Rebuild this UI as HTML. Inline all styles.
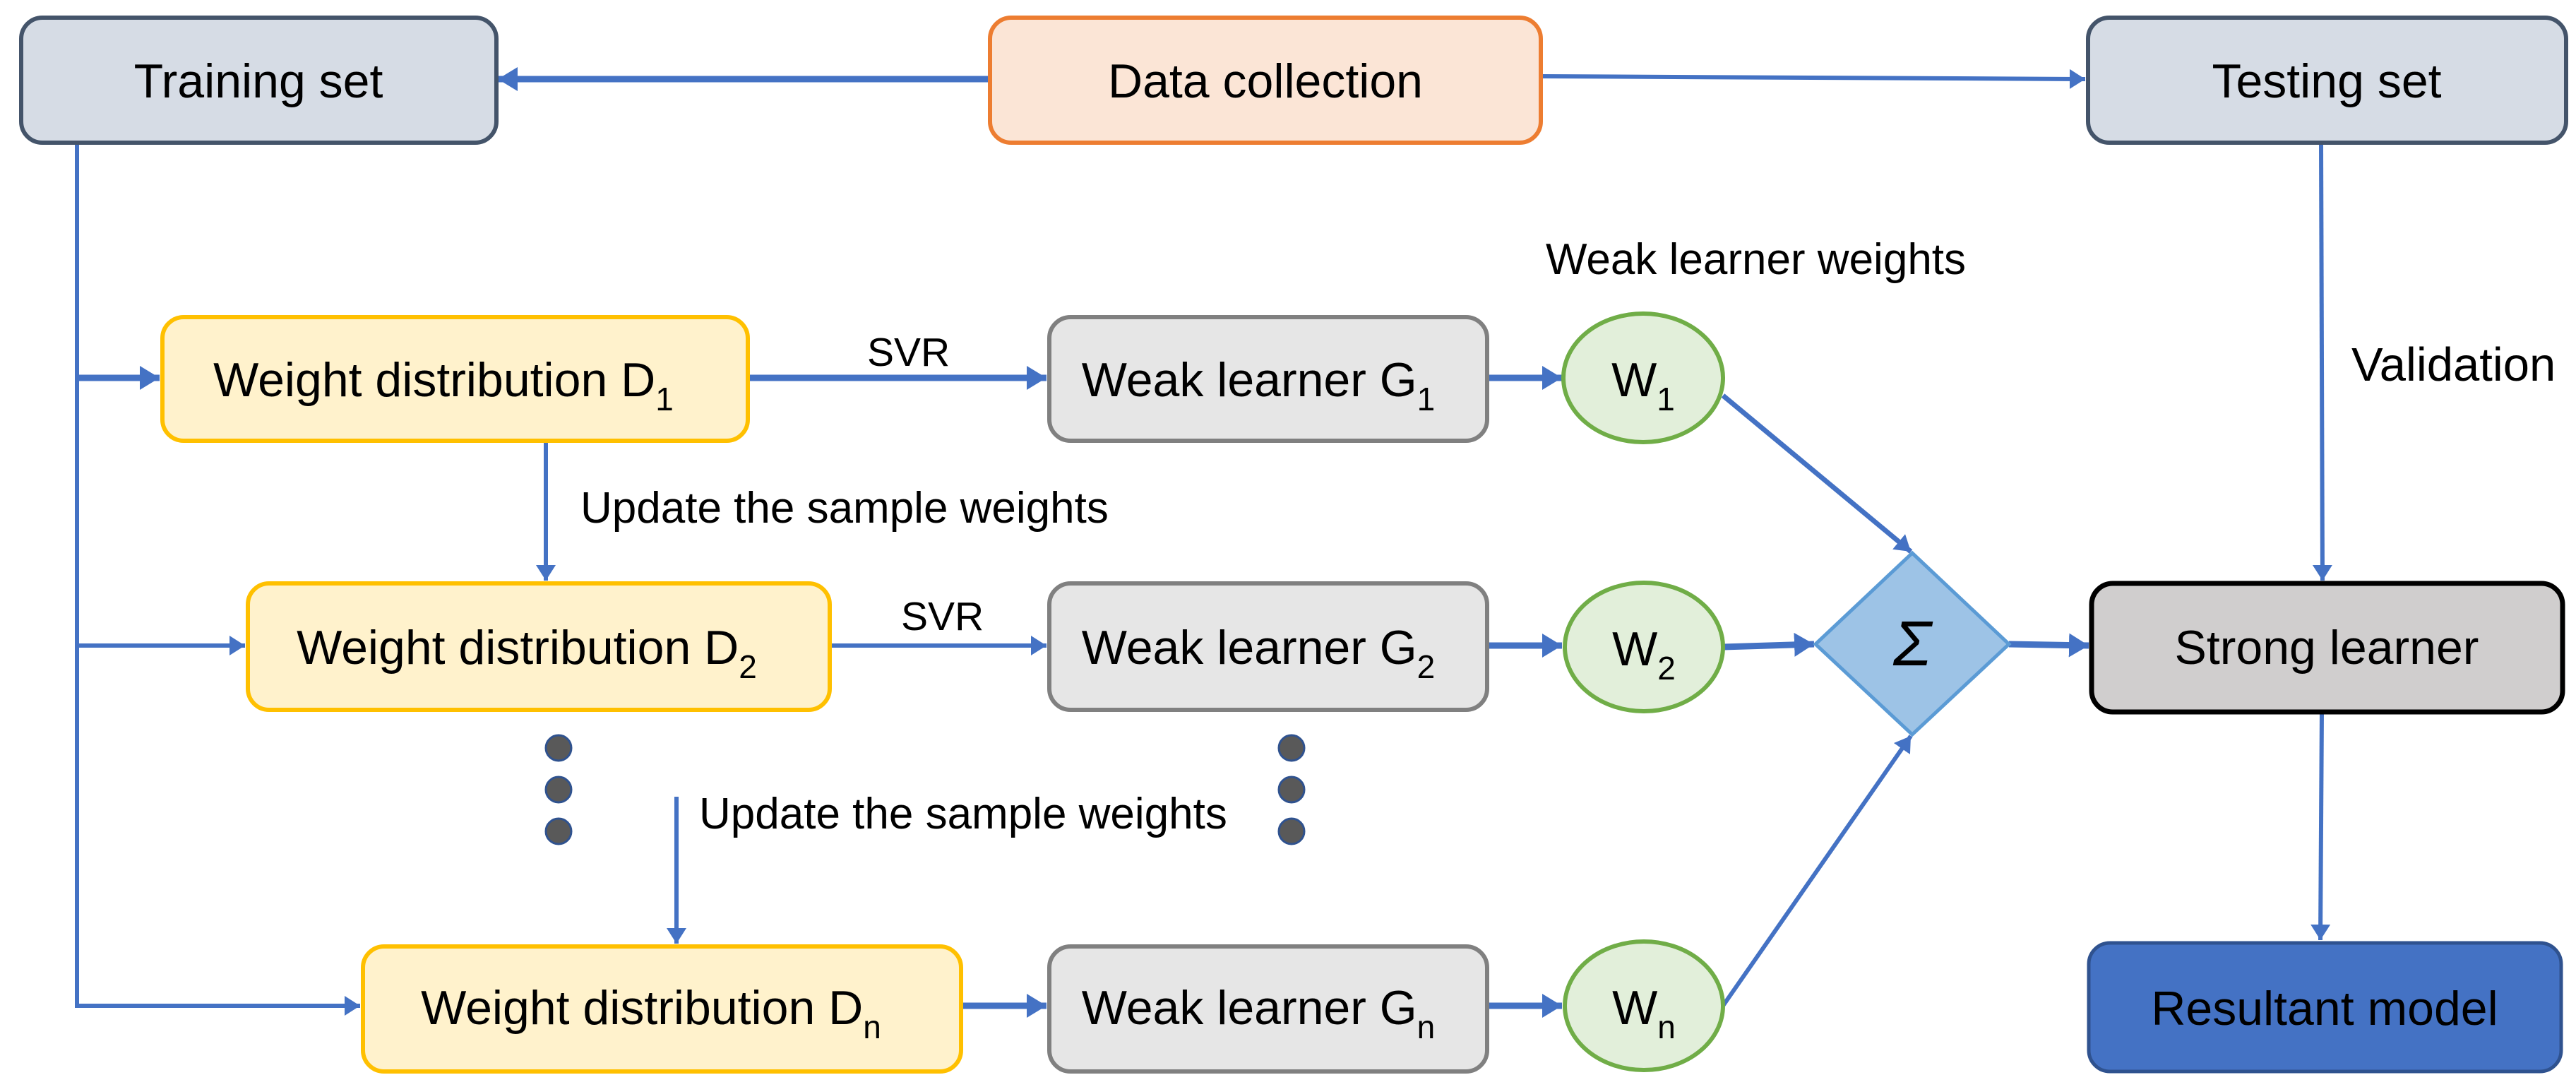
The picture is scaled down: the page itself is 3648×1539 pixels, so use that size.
<!DOCTYPE html>
<html><head><meta charset="utf-8"><style>
html,body{margin:0;padding:0;background:#fff;}
svg{display:block;}
text{font-family:"Liberation Sans",Arial,sans-serif;fill:#000;}
</style></head><body>
<svg width="3648" height="1539" viewBox="0 0 3648 1539" xmlns="http://www.w3.org/2000/svg">
<defs>
<marker id="ah" markerUnits="userSpaceOnUse" markerWidth="30" markerHeight="34" refX="28" refY="17" orient="auto">
<path d="M0,0 L28,17 L0,34 Z" fill="#4472C4"/></marker>
<marker id="as" markerUnits="userSpaceOnUse" markerWidth="24" markerHeight="28" refX="22" refY="14" orient="auto">
<path d="M0,0 L22,14 L0,28 Z" fill="#4472C4"/></marker>
</defs>

<g stroke="#4472C4" fill="none">
<line x1="1400" y1="112" x2="705" y2="112" stroke-width="9" marker-end="url(#ah)"/>
<line x1="2182" y1="108" x2="2953" y2="112" stroke-width="6" marker-end="url(#as)"/>
<polyline points="109,202 109,1424 510,1424" stroke-width="6" marker-end="url(#as)"/>
<line x1="109" y1="535" x2="226" y2="535" stroke-width="9" marker-end="url(#ah)"/>
<line x1="109" y1="914" x2="347" y2="914" stroke-width="6" marker-end="url(#as)"/>
<line x1="1059" y1="535" x2="1482" y2="535" stroke-width="9" marker-end="url(#ah)"/>
<line x1="1175" y1="914" x2="1482" y2="914" stroke-width="6" marker-end="url(#as)"/>
<line x1="1361" y1="1424" x2="1482" y2="1424" stroke-width="9" marker-end="url(#ah)"/>
<line x1="2106" y1="535" x2="2212" y2="535" stroke-width="9" marker-end="url(#ah)"/>
<line x1="2106" y1="914" x2="2212" y2="914" stroke-width="9" marker-end="url(#ah)"/>
<line x1="2106" y1="1424" x2="2212" y2="1424" stroke-width="9" marker-end="url(#ah)"/>
<line x1="773" y1="624" x2="773" y2="822" stroke-width="6" marker-end="url(#as)"/>
<line x1="958" y1="1128" x2="958" y2="1336" stroke-width="6" marker-end="url(#as)"/>
<line x1="2440" y1="560" x2="2706" y2="781" stroke-width="7" marker-end="url(#as)"/>
<line x1="2440" y1="916" x2="2569" y2="912" stroke-width="9" marker-end="url(#ah)"/>
<line x1="2440" y1="1424" x2="2706" y2="1042" stroke-width="6" marker-end="url(#as)"/>
<line x1="2845" y1="912" x2="2958" y2="914" stroke-width="9" marker-end="url(#ah)"/>
<line x1="3287" y1="202" x2="3289" y2="822" stroke-width="6" marker-end="url(#as)"/>
<line x1="3288" y1="1008" x2="3286" y2="1331" stroke-width="6" marker-end="url(#as)"/>
</g>

<rect x="30" y="25" width="673" height="177" rx="30" fill="#D6DCE5" stroke="#44546A" stroke-width="6"/>
<rect x="1402" y="25" width="780" height="177" rx="30" fill="#FBE5D6" stroke="#ED7D31" stroke-width="6"/>
<rect x="2957" y="25" width="677" height="177" rx="30" fill="#D6DCE5" stroke="#44546A" stroke-width="6"/>
<rect x="230" y="449" width="829" height="175" rx="30" fill="#FFF2CC" stroke="#FFC000" stroke-width="6"/>
<rect x="351" y="826" width="824" height="179" rx="30" fill="#FFF2CC" stroke="#FFC000" stroke-width="6"/>
<rect x="514" y="1340" width="847" height="177" rx="30" fill="#FFF2CC" stroke="#FFC000" stroke-width="6"/>
<rect x="1486" y="449" width="620" height="175" rx="30" fill="#E6E6E6" stroke="#808080" stroke-width="6"/>
<rect x="1486" y="826" width="620" height="179" rx="30" fill="#E6E6E6" stroke="#808080" stroke-width="6"/>
<rect x="1486" y="1340" width="620" height="177" rx="30" fill="#E6E6E6" stroke="#808080" stroke-width="6"/>
<ellipse cx="2327" cy="535" rx="113" ry="91" fill="#E2EFDA" stroke="#70AD47" stroke-width="6"/>
<ellipse cx="2328" cy="916" rx="112" ry="91" fill="#E2EFDA" stroke="#70AD47" stroke-width="6"/>
<ellipse cx="2328" cy="1424" rx="112" ry="91" fill="#E2EFDA" stroke="#70AD47" stroke-width="6"/>
<polygon points="2708,783 2845,912 2708,1040 2571,912" fill="#9DC3E6" stroke="#5B9BD5" stroke-width="5"/>
<rect x="2962" y="826" width="667" height="182" rx="30" fill="#D0CECE" stroke="#000" stroke-width="7"/>
<rect x="2958" y="1335" width="669" height="182" rx="30" fill="#4472C4" stroke="#2F528F" stroke-width="5"/>

<g fill="#595959" stroke="#2F528F" stroke-width="3">
<circle cx="791" cy="1059" r="18"/><circle cx="791" cy="1118" r="18"/><circle cx="791" cy="1177" r="18"/>
<circle cx="1829" cy="1059" r="18"/><circle cx="1829" cy="1118" r="18"/><circle cx="1829" cy="1177" r="18"/>
</g>

<g font-size="68" text-anchor="middle">
<text x="366" y="138">Training set</text>
<text x="1792" y="138">Data collection</text>
<text x="3295" y="138">Testing set</text>
<text x="628" y="561">Weight distribution D<tspan font-size="46" dy="20">1</tspan></text>
<text x="746" y="940">Weight distribution D<tspan font-size="46" dy="20">2</tspan></text>
<text x="922" y="1450">Weight distribution D<tspan font-size="46" dy="20">n</tspan></text>
<text x="1782" y="561">Weak learner G<tspan font-size="46" dy="20">1</tspan></text>
<text x="1782" y="940">Weak learner G<tspan font-size="46" dy="20">2</tspan></text>
<text x="1782" y="1450">Weak learner G<tspan font-size="46" dy="20">n</tspan></text>
<text x="2327" y="561">W<tspan font-size="46" dy="20">1</tspan></text>
<text x="2328" y="942">W<tspan font-size="46" dy="20">2</tspan></text>
<text x="2328" y="1450">W<tspan font-size="46" dy="20">n</tspan></text>
<text x="3295" y="940">Strong learner</text>
<text x="3292" y="1451">Resultant model</text>
<text x="2708" y="942" font-family="Liberation Serif,serif" font-style="italic" font-size="90">Σ</text>
</g>
<g font-size="62">
<text x="2189" y="388">Weak learner weights</text>
<text x="3330" y="539" font-size="67">Validation</text>
<text x="1228" y="518" font-size="57">SVR</text>
<text x="1276" y="892" font-size="57">SVR</text>
<text x="822" y="740">Update the sample weights</text>
<text x="990" y="1173">Update the sample weights</text>
</g>
</svg>
</body></html>
